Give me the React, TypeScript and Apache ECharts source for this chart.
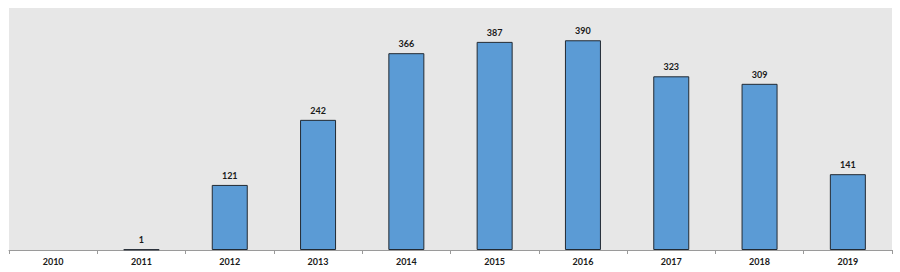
import React, { useEffect, useRef } from "react";
import * as echarts from "echarts";

const categories = ["2010", "2011", "2012", "2013", "2014", "2015", "2016", "2017", "2018", "2019"];
const values: (number | null)[] = [null, 1, 121, 242, 366, 387, 390, 323, 309, 141];

export default function App() {
  const ref = useRef<HTMLDivElement>(null);
  useEffect(() => {
    if (!ref.current) return;
    const chart = echarts.init(ref.current, undefined, { renderer: "svg" });
    chart.setOption({
      animation: false,
      grid: {
        left: 9,
        right: 8,
        top: 8,
        bottom: 22,
        show: true,
        backgroundColor: "#e7e7e7",
        borderWidth: 0,
      },
      xAxis: {
        type: "category",
        data: categories,
        axisLine: { lineStyle: { color: "#9a9a9a", width: 1 } },
        axisTick: { show: true, length: 4, lineStyle: { color: "#9a9a9a" } },
        axisLabel: {
          color: "#1a1a1a",
          fontFamily: "Lato",
          fontWeight: "bold",
          fontSize: 9,
          margin: 7,
        },
      },
      yAxis: {
        type: "value",
        min: 0,
        max: 450,
        show: false,
        splitLine: { show: false },
      },
      series: [
        {
          type: "bar",
          data: values.map((v) => (v == null ? "-" : v)),
          barWidth: 36,
          itemStyle: {
            color: "#5b9bd5",
            borderColor: "#222a33",
            borderWidth: 1,
          },
          label: {
            show: true,
            position: "top",
            distance: 5,
            color: "#1a1a1a",
            fontFamily: "Lato",
            fontWeight: "bold",
            fontSize: 9,
          },
        },
      ],
    });
    return () => chart.dispose();
  }, []);
  return (
    <div
      ref={ref}
      style={{ position: "absolute", left: 0, top: 0, width: 900, height: 272 }}
    />
  );
}
